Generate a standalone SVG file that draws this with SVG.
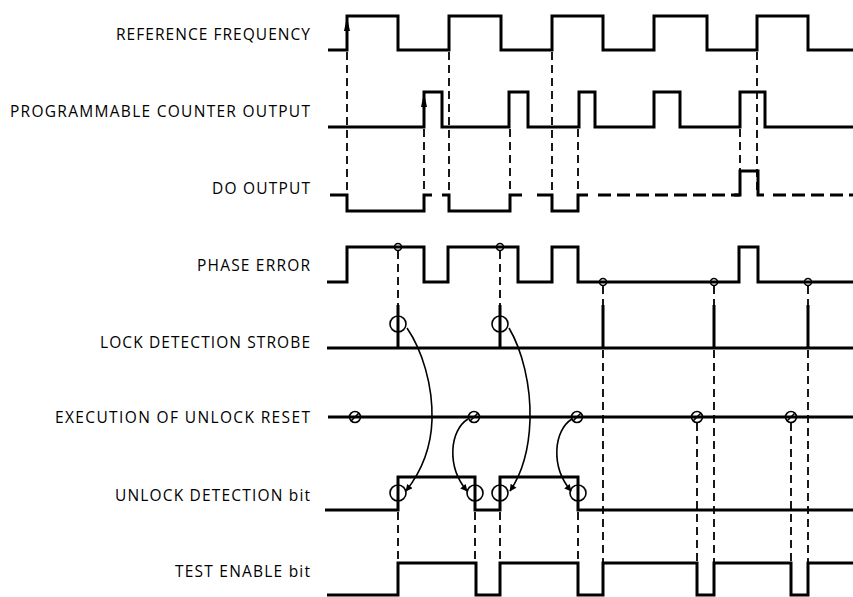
<svg xmlns="http://www.w3.org/2000/svg" width="853" height="597" viewBox="0 0 853 597">
<defs>
<style>
.lbl{font-family:"Open Sans","Noto Sans","DejaVu Sans",sans-serif;font-size:15.5px;fill:#000;text-anchor:end}
.w{fill:none;stroke:#000;stroke-width:3;stroke-linejoin:miter;stroke-linecap:butt}
.d{fill:none;stroke:#000;stroke-width:1.8;stroke-dasharray:8 5}
.dd{fill:none;stroke:#000;stroke-width:3;stroke-dasharray:13 6}
.c{fill:none;stroke:#000;stroke-width:1.6}
.cv{fill:none;stroke:#000;stroke-width:1.6;marker-end:url(#ah)}
</style>
<marker id="ah" viewBox="0 0 10 10" refX="9" refY="5" markerWidth="9" markerHeight="7" markerUnits="userSpaceOnUse" orient="auto">
<path d="M0,0 L10,5 L0,10 Z" fill="#000"/>
</marker>
</defs>
<rect width="853" height="597" fill="#fff"/>

<g id="labels">
<text class="lbl" x="310" y="40" textLength="194" lengthAdjust="spacing">REFERENCE FREQUENCY</text>
<text class="lbl" x="310" y="117" textLength="300" lengthAdjust="spacing">PROGRAMMABLE COUNTER OUTPUT</text>
<text class="lbl" x="310" y="194" textLength="98" lengthAdjust="spacing">DO OUTPUT</text>
<text class="lbl" x="310" y="271" textLength="113" lengthAdjust="spacing">PHASE ERROR</text>
<text class="lbl" x="310" y="348" textLength="210" lengthAdjust="spacing">LOCK DETECTION STROBE</text>
<text class="lbl" x="310" y="423" textLength="255" lengthAdjust="spacing">EXECUTION OF UNLOCK RESET</text>
<text class="lbl" x="310" y="501" textLength="195" lengthAdjust="spacing">UNLOCK DETECTION bit</text>
<text class="lbl" x="310" y="577" textLength="135" lengthAdjust="spacing">TEST ENABLE bit</text>
</g>

<g id="ref-frequency">
<path class="w" d="M328,50 H347 V16 H398 V50 H449 V16 H501 V50 H552 V16 H603 V50 H654 V16 H707 V50 H757 V16 H808 V50 H853"/>
<polygon points="347,17 344,31 350,31" fill="#000"/>
</g>

<g id="pco-output">
<path class="w" d="M328,127 H424 V92 H442 V127 H509 V92 H528 V127 H579 V92 H595 V127 H654 V92 H680 V127 H740 V92 H765 V127 H853"/>
<polygon points="424,93 421,107 427,107" fill="#000"/>
</g>

<g id="do-output">
<path class="w" d="M330,195 H347 V211 H424 V195 H432"/>
<path class="w" d="M442,195 H449 V211 H510 V195 H522"/>
<path class="w" d="M537,195 H552 V211 H578 V195 H588"/>
<path class="dd" d="M598,195 H740"/>
<path class="w" d="M734,195 H740 V171 H758 V195 H764"/>
<path class="dd" d="M773,195 H853"/>
</g>

<g id="phase-error">
<path class="w" d="M327,282 H347 V247 H424 V282 H448 V247 H518 V282 H552 V247 H578 V282 H739 V247 H758 V282 H853"/>
<circle class="c" cx="398" cy="247" r="3.5"/>
<circle class="c" cx="500" cy="247" r="3.5"/>
<circle class="c" cx="603" cy="282" r="3.5"/>
<circle class="c" cx="714" cy="282" r="3.5"/>
<circle class="c" cx="808" cy="282" r="3.5"/>
</g>

<g id="lock-detection-strobe">
<path class="w" d="M327,348 H853"/>
<path class="w" d="M398,305 V348 M500,305 V348 M603,305 V348 M714,305 V348 M808,305 V348"/>
<circle class="c" cx="398" cy="324" r="8"/>
<circle class="c" cx="500" cy="324" r="8"/>
</g>

<g id="unlock-reset">
<path class="w" d="M328,417 H853"/>
<g class="c">
<circle cx="355" cy="417" r="5.5"/><path d="M351,421 L359,413"/>
<circle cx="474" cy="417" r="5.5"/><path d="M470,421 L478,413"/>
<circle cx="577" cy="417" r="5.5"/><path d="M573,421 L581,413"/>
<circle cx="697" cy="417" r="5.5"/><path d="M693,421 L701,413"/>
<circle cx="791" cy="417" r="5.5"/><path d="M787,421 L795,413"/>
</g>
</g>

<g id="unlock-detection">
<path class="w" d="M325,510 H398 V477 H475 V510 H500 V477 H578 V510 H853"/>
<circle class="c" cx="398" cy="493" r="8"/>
<circle class="c" cx="475" cy="493" r="8"/>
<circle class="c" cx="500" cy="493" r="8"/>
<circle class="c" cx="578" cy="493" r="8"/>
</g>

<g id="test-enable">
<path class="w" d="M327,595 H398 V563 H476 V595 H500 V563 H578 V595 H603 V563 H697 V595 H714 V563 H791 V595 H808 V563 H853"/>
</g>

<g id="connectors">
<path class="d" d="M347,52 V195 M424,129 V195 M449,52 V195 M510,129 V195 M552,52 V195 M578,129 V195 M740,129 V171 M757,52 V195"/>
<path class="d" d="M398,251 V305 M500,251 V305 M603,286 V305 M714,286 V305 M808,286 V305"/>
<path class="d" d="M603,350 V563 M714,350 V563 M808,350 V563 M697,423 V563 M791,423 V563"/>
<path class="d" d="M398,512 V563 M475,512 V563 M500,512 V563 M578,512 V563"/>
<path class="cv" d="M407,328 C422,350 433,385 432,420 C431,450 421,472 406,491"/>
<path class="cv" d="M509,328 C522,350 531,385 530,420 C529,450 523,472 510,491"/>
<path class="cv" d="M468,419 C450,430 446,466 467,491"/>
<path class="cv" d="M572,419 C554,430 550,466 571,491"/>
</g>
</svg>
